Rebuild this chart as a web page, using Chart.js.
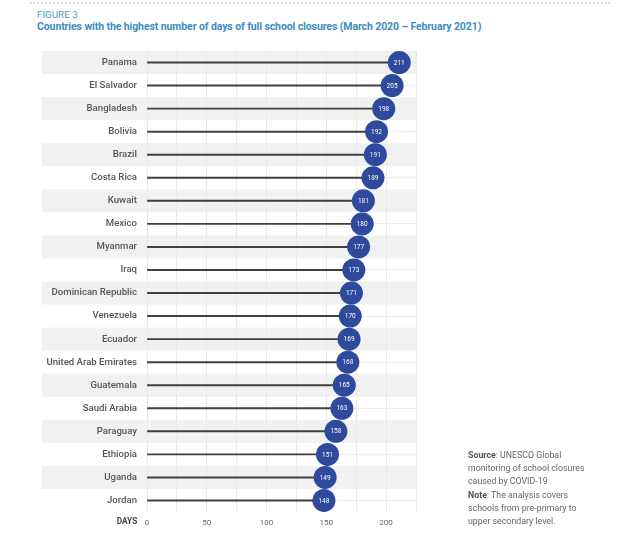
<!DOCTYPE html>
<html>
<head>
<meta charset="utf-8">
<script src="https://cdn.jsdelivr.net/npm/chart.js@4"></script>
<style>
  html, body { margin: 0; padding: 0; background: #fff; }
  #wrap { position: relative; width: 637px; height: 540px; overflow: hidden; font-family: Roboto, "Noto Sans", sans-serif; }
  #dots { position: absolute; left: 30px; top: 2px; width: 580px; border-top: 2px dotted #d8dcdc; }
  #fig { position: absolute; left: 37px; top: 8.5px; font-size: 9.8px; color: #4a9ccc; }
  #title { position: absolute; left: 37px; top: 20px; font-size: 10.5px; font-weight: bold; color: #3c8dc2; letter-spacing: -0.1px; white-space: nowrap; }
  #note { position: absolute; left: 468px; top: 449px; font-size: 8.8px; line-height: 13.2px; color: #666; }
  #note b { color: #555; }
  canvas { position: absolute; left: 0; top: 0; }
</style>
</head>
<body>
<div id="wrap">
  <div id="dots"></div>
  <div id="fig">FIGURE 3</div>
  <div id="title">Countries with the highest number of days of full school closures (March 2020 – February 2021)</div>
  <canvas id="chart" width="637" height="540"></canvas>
  <div id="note"><b>Source</b>: UNESCO Global<br>monitoring of school closures<br>caused by COVID-19<br><b>Note</b>: The analysis covers<br>schools from pre-primary to<br>upper secondary level.</div>
</div>
<script>
// data
var countries = ["Panama", "El Salvador", "Bangladesh", "Bolivia", "Brazil", "Costa Rica", "Kuwait", "Mexico",
  "Myanmar", "Iraq", "Dominican Republic", "Venezuela", "Ecuador", "United Arab Emirates", "Guatemala",
  "Saudi Arabia", "Paraguay", "Ethiopia", "Uganda", "Jordan"];
var days = [211, 205, 198, 192, 191, 189, 181, 180, 177, 173, 171, 170, 169, 168, 165, 163, 158, 151, 149, 148];
var dayTicks = [0, 50, 100, 150, 200];
var axisMax = 225;

// grey bands behind every other row
const rowBands = {
  id: 'rowBands',
  beforeDraw(chart) {
    const {ctx, chartArea: {right}, scales: {y}} = chart;
    const step = Math.abs(y.getPixelForValue(1) - y.getPixelForValue(0));
    ctx.save();
    ctx.fillStyle = '#f0f2f2';
    for (let i = 0; i < countries.length; i += 2) {
      const c = y.getPixelForValue(i);
      ctx.fillRect(42, c - step / 2, right - 42, step);
    }
    ctx.restore();
  }
};

// numbers inside the circles + "DAYS" axis word
const valueLabels = {
  id: 'valueLabels',
  afterDatasetsDraw(chart) {
    const {ctx, chartArea: {bottom}} = chart;
    ctx.save();
    ctx.textAlign = 'center';
    ctx.textBaseline = 'middle';
    ctx.font = '6.5px Roboto';
    ctx.fillStyle = '#ffffff';
    chart.getDatasetMeta(1).data.forEach((pt, i) => {
      ctx.fillText(days[i], pt.x, pt.y + 0.5);
    });
    ctx.font = 'bold 8.3px Roboto';
    ctx.fillStyle = '#444';
    ctx.fillText('DAYS', 127, bottom + 10);
    ctx.restore();
  }
};

var ctx = document.getElementById('chart');

new Chart(ctx, {
  type: 'bar',
  data: {
    labels: countries,
    datasets: [{
      data: days,
      backgroundColor: '#3f3f3f',
      barThickness: 1.3,
      order: 2
    }, {
      type: 'line',
      data: days,
      showLine: false,
      pointRadius: 11.5,
      pointHoverRadius: 11.5,
      pointBackgroundColor: '#2f4a9c',
      pointBorderWidth: 0,
      order: 1
    }]
  },
  options: {
    indexAxis: 'y',
    responsive: false,
    animation: false,
    layout: { padding: { top: 51, right: 221, left: 0, bottom: 0 } },
    plugins: { legend: { display: false }, tooltip: { enabled: false } },
    scales: {
      x: {
        min: 0,
        max: axisMax,
        afterFit(scale) { scale.height = 28; },
        afterBuildTicks(scale) {
          scale.ticks = [];
          for (let v = 0; v <= axisMax; v += 25) scale.ticks.push({value: v});
        },
        border: { display: false },
        grid: { color: '#e9ebeb', lineWidth: 1, drawTicks: false },
        ticks: {
          padding: 6,
          color: '#666',
          font: { family: 'Roboto', size: 8 },
          callback: function (v) { return dayTicks.indexOf(v) >= 0 ? v : ''; }
        }
      },
      y: {
        afterFit(scale) { scale.width = 147; },
        border: { display: false },
        grid: { offset: false, color: '#eceeee', drawTicks: false },
        ticks: {
          padding: 10,
          color: '#555',
          font: { family: 'Roboto', size: 9.6, weight: '500' }
        }
      }
    }
  },
  plugins: [rowBands, valueLabels]
});
</script>
</body>
</html>
